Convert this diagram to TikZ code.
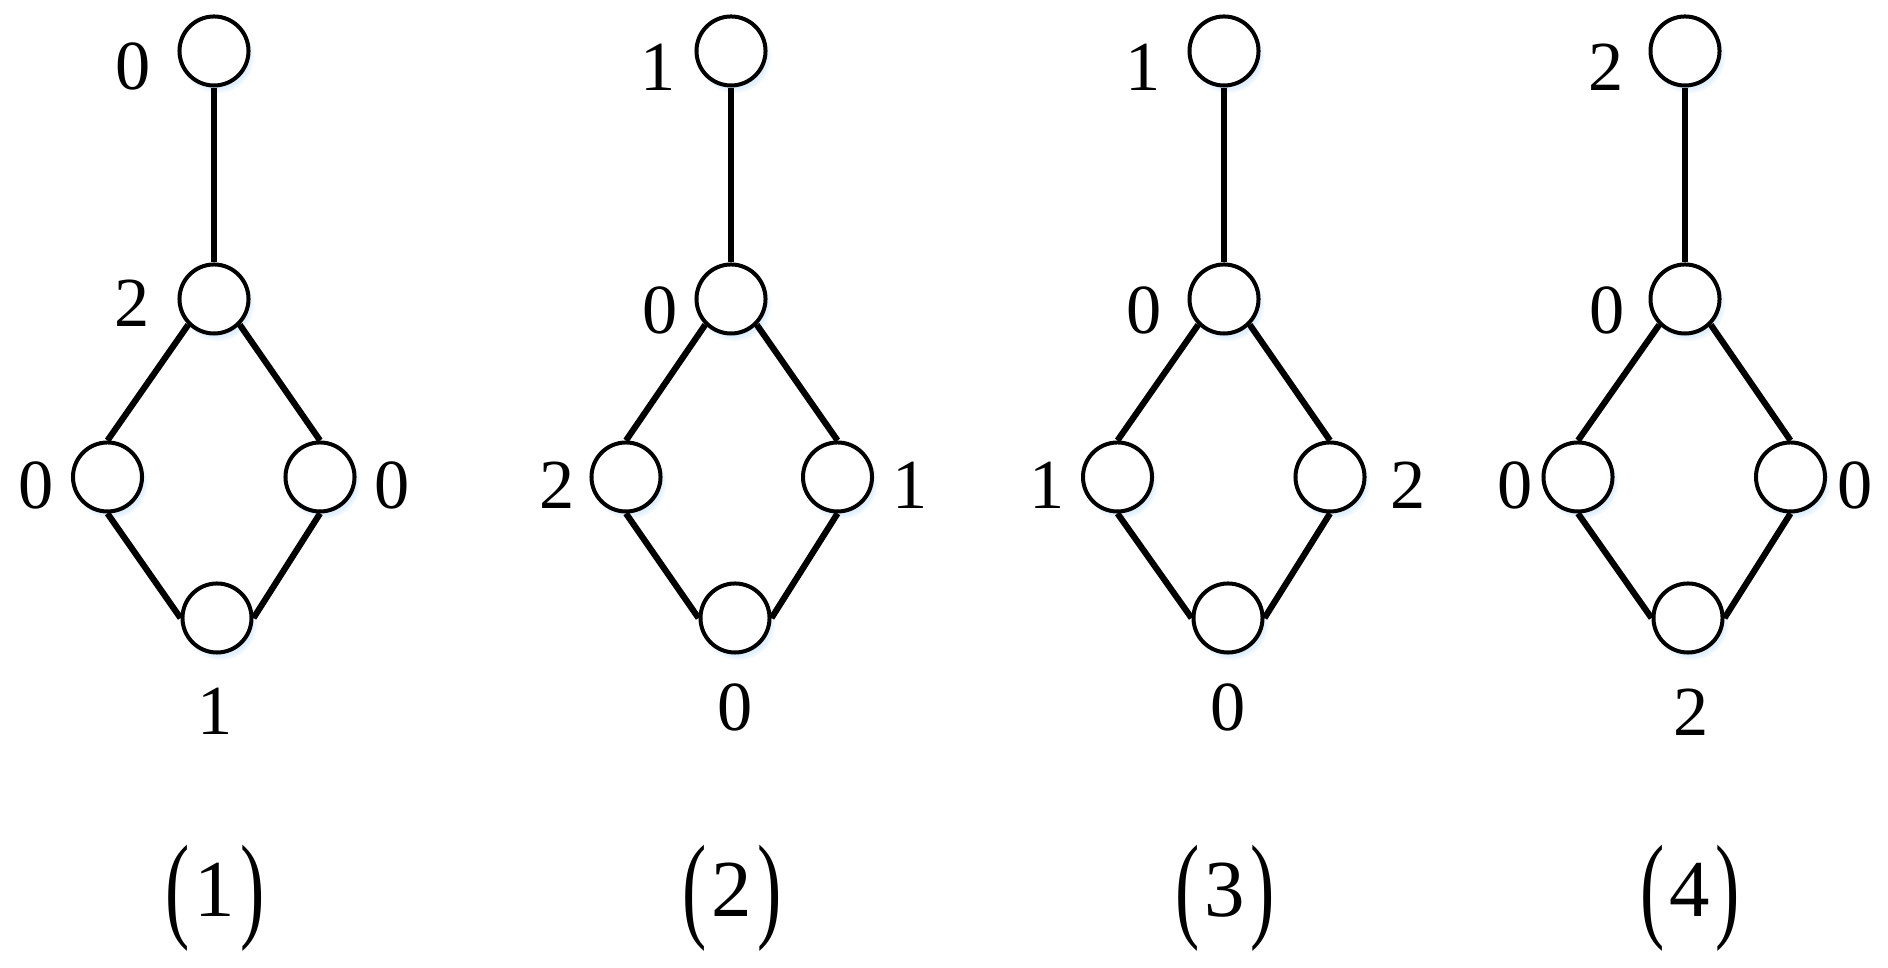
\documentclass[tikz,border=0pt]{standalone}
\usepackage{fontspec}
\setmainfont{Liberation Serif}
\usepackage{tikz}
\usetikzlibrary{shadows}

\tikzset{
  vertex/.style={circle, draw, fill=white, line width=0.4mm, minimum size=6.9mm, inner sep=0pt,
    circular drop shadow={shadow xshift=0.3mm, shadow yshift=-0.5mm, shadow scale=1.08,
      fill=blue!50!cyan!60, opacity=0.2}},
  edge/.style={line width=0.62mm},
  num/.style={inner sep=0pt, font=\fontsize{20}{24}\selectfont},
  caption/.style={inner sep=0pt, anchor=base, font=\fontsize{23}{28}\selectfont}
}
\newcommand{\tallparen}[1]{\raisebox{-0.9mm}{\scalebox{0.9}[1.45]{#1}}}
\newcommand{\capnum}[1]{\tallparen{(}\kern0.5mm#1\kern0.5mm\tallparen{)}}

\begin{document}
\begin{tikzpicture}[x=0.01cm, y=-0.01cm]
    \useasboundingbox (0,0) rectangle (1888,968);

    % graph (1)
    \node[vertex] (t1) at (214,51) {};
    \node[vertex] (m1) at (214,299) {};
    \node[vertex] (l1) at (107.5,477) {};
    \node[vertex] (r1) at (320,477) {};
    \node[vertex] (b1) at (217,618) {};
    \draw[edge] (t1.south) -- (m1.north);
    \draw[edge] (m1.south west) -- (l1.north);
    \draw[edge] (m1.south east) -- (r1.north);
    \draw[edge] (l1.south) -- (b1.west);
    \draw[edge] (r1.south) -- (b1.east);
    \node[num] (nt1) at (133,66) {0};
    \node[num] (nm1) at (132,303) {2};
    \node[num] (nl1) at (36,485) {0};
    \node[num] (nr1) at (392,485) {0};
    \node[num] (nb1) at (215,711) {1};
    \node[caption] (c1) at (215,917) {\capnum{1}};

    % graph (2)
    \node[vertex] (t2) at (731,51) {};
    \node[vertex] (m2) at (731,299) {};
    \node[vertex] (l2) at (626,477) {};
    \node[vertex] (r2) at (837.5,477) {};
    \node[vertex] (b2) at (735,618) {};
    \draw[edge] (t2.south) -- (m2.north);
    \draw[edge] (m2.south west) -- (l2.north);
    \draw[edge] (m2.south east) -- (r2.north);
    \draw[edge] (l2.south) -- (b2.west);
    \draw[edge] (r2.south) -- (b2.east);
    \node[num] (nt2) at (658,67) {1};
    \node[num] (nm2) at (660,310) {0};
    \node[num] (nl2) at (557,485) {2};
    \node[num] (nr2) at (910,485) {1};
    \node[num] (nb2) at (735,707) {0};
    \node[caption] (c2) at (732,917) {\capnum{2}};

    % graph (3)
    \node[vertex] (t3) at (1224,51) {};
    \node[vertex] (m3) at (1224,299) {};
    \node[vertex] (l3) at (1117.5,477) {};
    \node[vertex] (r3) at (1330,477) {};
    \node[vertex] (b3) at (1228,618) {};
    \draw[edge] (t3.south) -- (m3.north);
    \draw[edge] (m3.south west) -- (l3.north);
    \draw[edge] (m3.south east) -- (r3.north);
    \draw[edge] (l3.south) -- (b3.west);
    \draw[edge] (r3.south) -- (b3.east);
    \node[num] (nt3) at (1143,67) {1};
    \node[num] (nm3) at (1144,310) {0};
    \node[num] (nl3) at (1047,485) {1};
    \node[num] (nr3) at (1408,485) {2};
    \node[num] (nb3) at (1228,707) {0};
    \node[caption] (c3) at (1225,917) {\capnum{3}};

    % graph (4)
    \node[vertex] (t4) at (1685,51) {};
    \node[vertex] (m4) at (1685,299) {};
    \node[vertex] (l4) at (1578,477) {};
    \node[vertex] (r4) at (1790.5,477) {};
    \node[vertex] (b4) at (1688,618) {};
    \draw[edge] (t4.south) -- (m4.north);
    \draw[edge] (m4.south west) -- (l4.north);
    \draw[edge] (m4.south east) -- (r4.north);
    \draw[edge] (l4.south) -- (b4.west);
    \draw[edge] (r4.south) -- (b4.east);
    \node[num] (nt4) at (1606,67) {2};
    \node[num] (nm4) at (1607,310) {0};
    \node[num] (nl4) at (1515,485) {0};
    \node[num] (nr4) at (1855,485) {0};
    \node[num] (nb4) at (1691,712) {2};
    \node[caption] (c4) at (1690,917) {\capnum{4}};
\end{tikzpicture}
\end{document}
